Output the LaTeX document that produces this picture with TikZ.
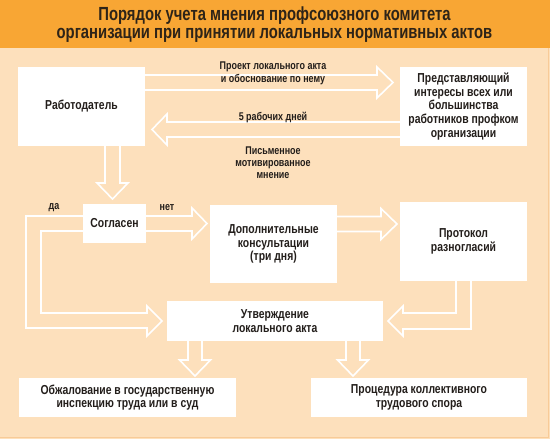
\documentclass[tikz,border=0pt]{standalone}
\usepackage{fontspec}
\newfontfamily\cf{Liberation Sans}[FakeStretch=0.8]
\newfontfamily\tf{Liberation Sans}[FakeStretch=0.78]
\definecolor{band}{HTML}{F8A634}
\definecolor{peach}{HTML}{FDE0BC}
\definecolor{edge}{HTML}{F8CB98}
\definecolor{ink}{HTML}{231E1B}
\definecolor{tink}{HTML}{2E2418}
\begin{document}
\begin{tikzpicture}[x=1pt,y=-1pt,
  box/.style={fill=white,draw=none,inner sep=0pt,align=center,text=ink,
    font=\cf\bfseries\fontsize{13}{13.8}\selectfont},
  lbl/.style={inner sep=0pt,align=center,text=ink,
    font=\cf\bfseries\fontsize{11.2}{13}\selectfont},
  hol/.style={draw=white,line width=1.6pt,line join=miter}]
\useasboundingbox (0,0) rectangle (550,439);
\fill[peach] (0,0) rectangle (550,439);
\draw[edge,line width=1pt] (548.5,48) -- (548.5,437.5) -- (0,437.5);
\fill[band] (0,0) rectangle (550,47.5);
\node[inner sep=0pt,align=center,text=tink,font=\tf\bfseries\fontsize{19}{18.5}\selectfont] (title) at (274.5,24.5)
  {Порядок учета мнения профсоюзного комитета\\организации при принятии локальных нормативных актов};

% boxes
\node[box,minimum width=127pt,minimum height=79pt] (rab) at (81.5,106.5) {Работодатель};
\node[box,minimum width=127pt,minimum height=79pt] (pred) at (463.5,106.5)
  {Представляющий\\интересы всех или\\большинства\\работников профком\\организации};
\node[box,minimum width=63pt,minimum height=39pt] (sogl) at (114.5,223.5) {Согласен};
\node[box,minimum width=127pt,minimum height=78pt] (dop) at (273.5,244)
  {Дополнительные\\консультации\\(три дня)};
\node[box,minimum width=127pt,minimum height=79pt] (prot) at (463.5,241.5)
  {Протокол\\разногласий};
\node[box,minimum width=216pt,minimum height=40pt] (utv) at (275,321)
  {Утверждение\\локального акта};
\node[box,minimum width=217pt,minimum height=39pt] (obj) at (127.5,397.5)
  {Обжалование в государственную\\инспекцию труда или в суд};
\node[box,minimum width=216pt,minimum height=39pt] (proc) at (419,397.5)
  {Процедура коллективного\\трудового спора};

% hollow arrows
% Работодатель -> Представляющий
\draw[hol] (rab.east |- 0,75) -- (377,75) -- (377,67) -- (393,82.5) -- (377,98) -- (377,90) -- (rab.east |- 0,90);
% Представляющий -> Работодатель
\draw[hol] (pred.west |- 0,122) -- (167,122) -- (167,114) -- (152,129.5) -- (167,145) -- (167,137) -- (pred.west |- 0,137);
% Работодатель -> Согласен
\draw[hol] (rab.south -| 105,0) -- (105,183) -- (97,183) -- (112.5,199) -- (128,183) -- (120,183) -- (rab.south -| 120,0);
% Согласен -> Доп
\draw[hol] (sogl.east |- 0,216) -- (192,216) -- (192,208) -- (207,223.5) -- (192,239) -- (192,231) -- (sogl.east |- 0,231);
% Доп -> Протокол
\draw[hol] (dop.east |- 0,216.5) -- (381,216.5) -- (381,208.5) -- (397,224) -- (381,239.5) -- (381,231.5) -- (dop.east |- 0,231.5);
% да loop: Согласен -> Утверждение
\draw[hol] (sogl.west |- 0,216) -- (26,216) -- (26,328) -- (147,328) -- (147,336) -- (162,321) -- (147,306) -- (147,313) -- (41,313) -- (41,231) -- (sogl.west |- 0,231);
% Протокол -> Утверждение
\draw[hol] (prot.south -| 456,0) -- (456,313) -- (403,313) -- (403,306) -- (388,321) -- (403,336) -- (403,329) -- (471,329) -- (prot.south -| 471,0);
% Утверждение -> Обжалование
\draw[hol] (utv.south -| 188,0) -- (188,360) -- (179.5,360) -- (195,376) -- (210.5,360) -- (202,360) -- (utv.south -| 202,0);
% Утверждение -> Процедура
\draw[hol] (utv.south -| 346,0) -- (346,360) -- (337.5,360) -- (353,376) -- (368.5,360) -- (360,360) -- (utv.south -| 360,0);

% labels
\node[lbl] (l1) at (273,73.5) {Проект локального акта\\и обоснование по нему};
\node[lbl] (l2) at (273,117) {5 рабочих дней};
\node[lbl,font=\cf\bfseries\fontsize{11.2}{12}\selectfont] (l3) at (273,162.5) {Письменное\\мотивированное\\мнение};
\node[lbl] (da) at (54,208) {да};
\node[lbl] (net) at (167,208) {нет};
\end{tikzpicture}
\end{document}
